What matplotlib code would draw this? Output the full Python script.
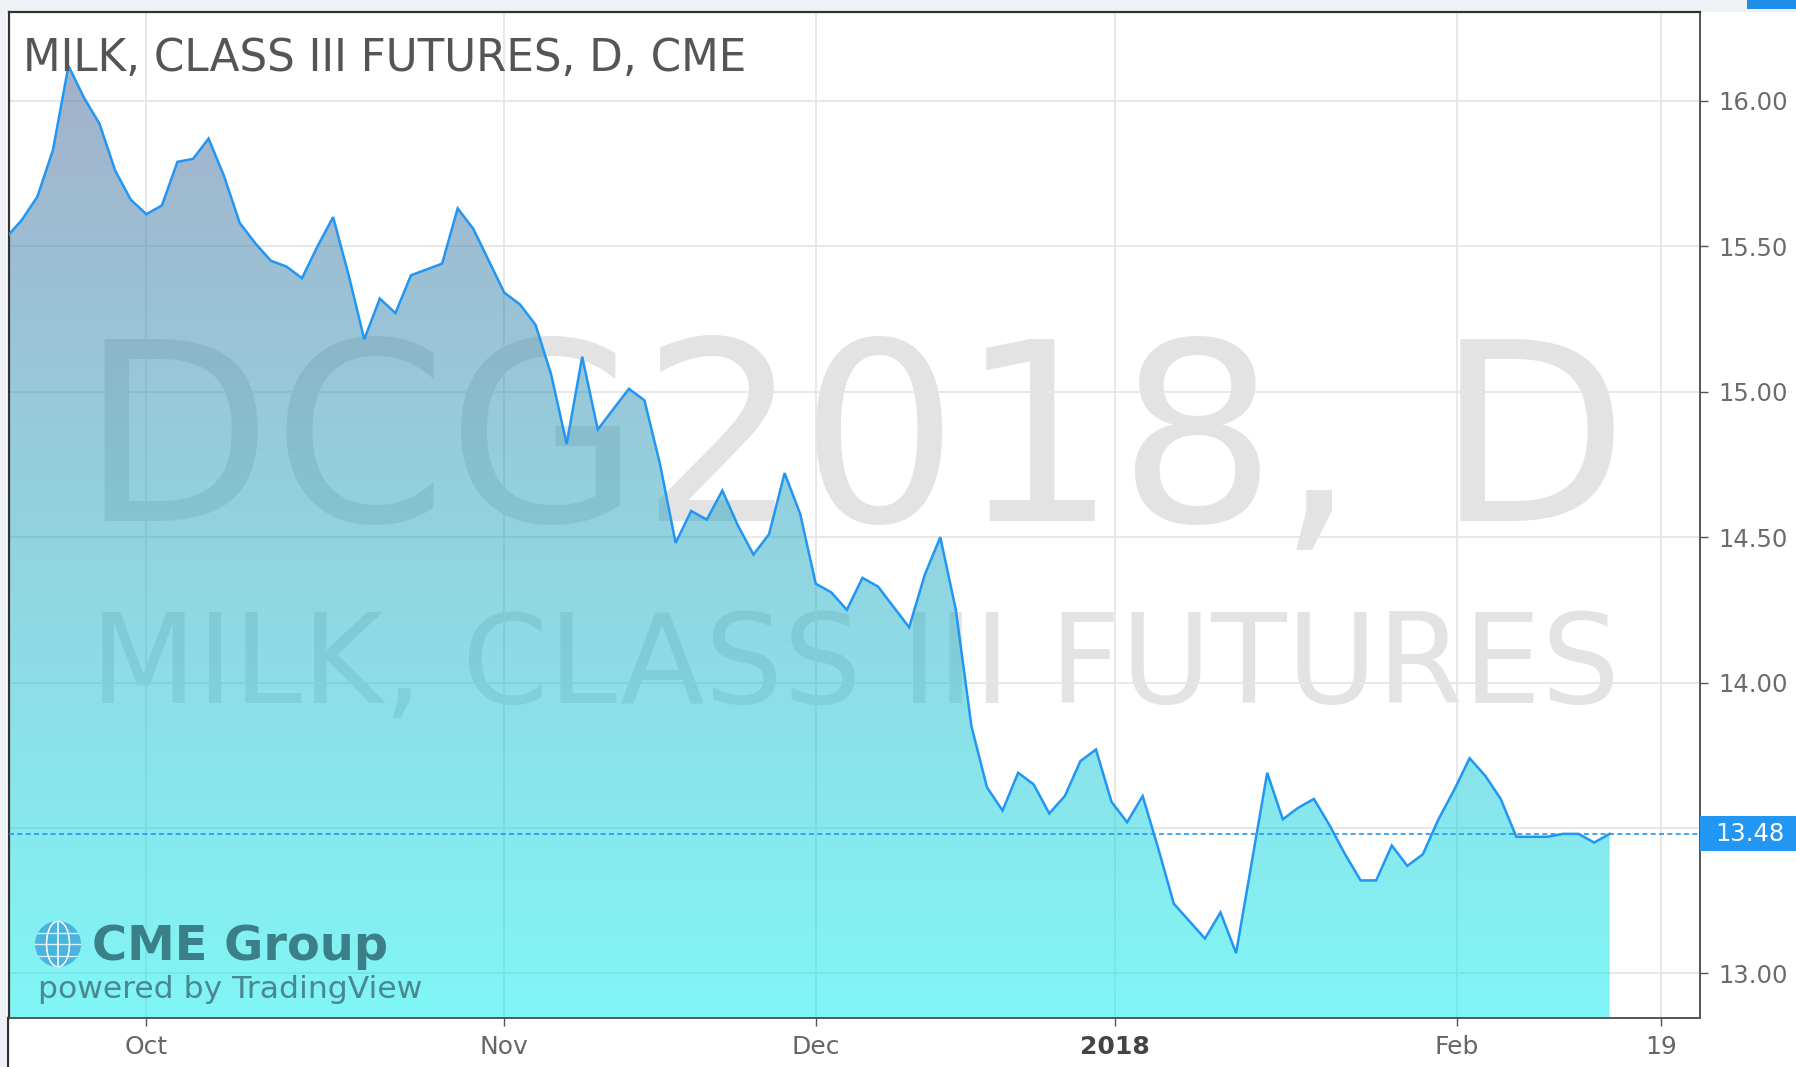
import numpy as np
import matplotlib
matplotlib.use("Agg")
import matplotlib.pyplot as plt
import matplotlib.transforms as mtransforms
from matplotlib.patches import Rectangle, Ellipse
from matplotlib.lines import Line2D

# ==========================================
# Data: daily settles, one bar per trading day (x = bar index)
# ==========================================
PRICES = [
    15.53, 15.59, 15.67, 15.83, 16.12, 16.01, 15.92, 15.76, 15.66, 15.61,
    15.64, 15.79, 15.80, 15.87, 15.74, 15.58, 15.51, 15.45, 15.43, 15.39,
    15.50, 15.60, 15.40, 15.18, 15.32, 15.27, 15.40, 15.42, 15.44, 15.63,
    15.56, 15.45, 15.34, 15.30, 15.23, 15.06, 14.82, 15.12, 14.87, 14.94,
    15.01, 14.97, 14.75, 14.48, 14.59, 14.56, 14.66, 14.54, 14.44, 14.51,
    14.72, 14.58, 14.34, 14.31, 14.25, 14.36, 14.33, 14.26, 14.19, 14.37,
    14.50, 14.25, 13.85, 13.64, 13.56, 13.69, 13.65, 13.55, 13.61, 13.73,
    13.77, 13.59, 13.52, 13.61, 13.43, 13.24, 13.18, 13.12, 13.21, 13.07,
    13.38, 13.69, 13.53, 13.57, 13.60, 13.51, 13.41, 13.32, 13.32, 13.44,
    13.37, 13.41, 13.53, 13.63, 13.74, 13.68, 13.60, 13.47, 13.47, 13.47,
    13.48, 13.48, 13.45, 13.48,
]
FIRST_BAR = -1
LAST_PRICE = 13.48

X_TICK_POS = [8, 31, 51, 70.2, 92.2, 105.3]
X_TICK_LABELS = ["Oct", "Nov", "Dec", "2018", "Feb", "19"]
Y_TICKS = [13.0, 13.5, 14.0, 14.5, 15.0, 15.5, 16.0]

TITLE = "MILK, CLASS III FUTURES, D, CME"
WATERMARK_1 = "DCG2018, D"
WATERMARK_2 = "MILK, CLASS III FUTURES"

X_RANGE = (-0.82, 107.8)
Y_RANGE = (12.847, 16.305)

LINE_BLUE = "#2196f3"
# area colours, drawn at half opacity so grid and watermark show through
FILL_TOP = np.array([75, 91, 145]) / 255
FILL_BOTTOM = np.array([1, 237, 237]) / 255
FILL_ALPHA = 0.5

W, H = 1796, 1067


def main():
    plt.rcParams['font.family'] = ['DejaVu Sans']
    fig = plt.figure(figsize=(W / 100, H / 100), dpi=100)
    fig.patch.set_facecolor("white")

    # light frame strips round the chart panel
    fig.add_artist(Rectangle((0, 1 - 12 / H), 1, 12 / H, transform=fig.transFigure,
                             fc="#eef1f5", ec="none", zorder=0))
    fig.add_artist(Rectangle((0, 0), 6 / W, 1, transform=fig.transFigure,
                             fc="#eef1f5", ec="none", zorder=0))
    fig.add_artist(Rectangle((1747 / W, 1 - 9 / H), 49 / W, 9 / H, transform=fig.transFigure,
                             fc="#1e8ee8", ec="none", zorder=1))
    fig.add_artist(Line2D([8 / W, 8 / W], [0, 1 - 1018 / H], transform=fig.transFigure,
                          color="#333333", lw=1.6))

    ax = fig.add_axes([9 / W, 1 - 1018 / H, (1700 - 9) / W, (1018 - 12) / H])
    ax.set_facecolor("white")

    x = np.arange(FIRST_BAR, FIRST_BAR + len(PRICES))
    y = np.array(PRICES)

    # watermark and grid sit under the see-through area
    ax.text(0.5, 0.494, WATERMARK_1, transform=ax.transAxes, ha="center", va="baseline",
            fontsize=180, color="#e3e3e3", zorder=0.5)
    ax.text(0.5, 0.313, WATERMARK_2, transform=ax.transAxes, ha="center", va="baseline",
            fontsize=89, color="#e3e3e3", zorder=0.5)
    for v in Y_TICKS:
        ax.axhline(v, color="#e6e6e6", lw=1.3, zorder=0.6)
    for p in X_TICK_POS:
        ax.axvline(p, color="#e6e6e6", lw=1.3, zorder=0.6)

    # area with vertical gradient, clipped to the region under the line
    poly = ax.fill_between(x, y, Y_RANGE[0], facecolor="none", edgecolor="none")
    t = np.linspace(0, 1, 256)[:, None]
    grad = (FILL_TOP * (1 - t) + FILL_BOTTOM * t).reshape(256, 1, 3)
    im = ax.imshow(grad, extent=[X_RANGE[0], X_RANGE[1], Y_RANGE[0], Y_RANGE[1]],
                   aspect="auto", origin="upper", zorder=1, alpha=FILL_ALPHA,
                   interpolation="bilinear")
    im.set_clip_path(poly.get_paths()[0], transform=ax.transData)

    ax.plot(x, y, color=LINE_BLUE, lw=1.8, zorder=4, solid_joinstyle="miter")
    ax.axhline(LAST_PRICE, color=LINE_BLUE, lw=1.2, ls=(0, (3, 2)), zorder=4)

    ax.text(14 / 1691, (1018 - 71) / 1006, TITLE, transform=ax.transAxes, ha="left",
            va="baseline", fontsize=31.4, color="#555555", zorder=6)

    # CME Group / TradingView logo
    cx, cy, r = (58 - 9) / 1691, (1018 - 944) / 1006, 23
    rw, rh = r / 1691, r / 1006
    globe = Ellipse((cx, cy), 2 * rw, 2 * rh, transform=ax.transAxes,
                    fc="#4ab4de", ec="none", zorder=5)
    ax.add_patch(globe)
    for k in (-0.5, 0, 0.5):
        ln = ax.plot([cx - rw, cx + rw], [cy + k * rh, cy + k * rh], transform=ax.transAxes,
                     color="white", lw=1.0, alpha=0.8, zorder=5.1)[0]
        ln.set_clip_path(globe)
        el = Ellipse((cx, cy), 2 * rw * abs(k) if k else 0.0001, 2 * rh, transform=ax.transAxes,
                     fc="none", ec="white", lw=1.0, alpha=0.8, zorder=5.1)
        ax.add_patch(el)
        el.set_clip_path(globe)
    ax.text((92 - 9) / 1691, (1018 - 960) / 1006, "CME Group", transform=ax.transAxes,
            ha="left", va="baseline", fontsize=34.5, fontweight="bold", color="#3b8088", zorder=5)
    ax.text((38 - 9) / 1691, (1018 - 998) / 1006, "powered by TradingView",
            transform=ax.transAxes, ha="left", va="baseline", fontsize=22.6,
            color="#4a8891", zorder=5)

    ax.set_xlim(*X_RANGE)
    ax.set_ylim(*Y_RANGE)

    # axes
    ax.yaxis.tick_right()
    ax.set_yticks(Y_TICKS)
    ax.set_yticklabels([f"{v:.2f}" for v in Y_TICKS])
    ax.tick_params(axis="y", direction="out", length=6, width=1, color="#555555",
                   labelcolor="#6b6b6b", labelsize=17.5, pad=7)
    ax.set_xticks(X_TICK_POS)
    ax.set_xticklabels(X_TICK_LABELS)
    ax.tick_params(axis="x", direction="out", length=6, width=1, color="#555555",
                   labelcolor="#666666", labelsize=18, pad=6)
    for lbl in ax.get_xticklabels():
        if lbl.get_text() == "2018":
            lbl.set_fontweight("bold")
            lbl.set_color("#444444")

    for side in ["top", "left"]:
        ax.spines[side].set_color("#333333")
        ax.spines[side].set_linewidth(1.6)
    for side in ["right", "bottom"]:
        ax.spines[side].set_color("#555555")
        ax.spines[side].set_linewidth(1.4)

    # last price tag on the price scale
    blend = mtransforms.blended_transform_factory(ax.transAxes, ax.transData)
    ax.add_patch(Rectangle((1.0, LAST_PRICE - 0.06), 0.07, 0.12, transform=blend,
                           fc=LINE_BLUE, ec="none", clip_on=False, zorder=6))
    ax.text(1.0 + 15 / 1691, LAST_PRICE, f"{LAST_PRICE:.2f}", transform=blend,
            ha="left", va="center", fontsize=17.5, color="white", zorder=7, clip_on=False)

    fig.savefig("out.png", dpi=100, facecolor=fig.get_facecolor())
    plt.close(fig)


if __name__ == "__main__":
    main()
